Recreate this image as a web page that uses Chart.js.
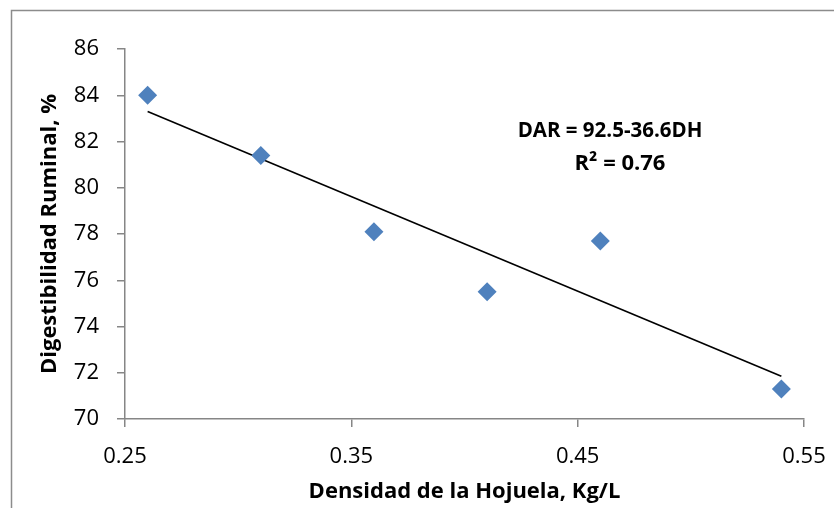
<!DOCTYPE html>
<html>
<head>
<meta charset="utf-8">
<script src="https://cdn.jsdelivr.net/npm/chart.js@4"></script>
<style>
  html, body { margin: 0; padding: 0; background: #fff; }
  #wrap { position: relative; width: 834px; height: 508px; }
</style>
</head>
<body>
<div id="wrap"><canvas id="chartCanvas" width="834" height="508"></canvas></div>
<script>
// Densidad de la hojuela (Kg/L) vs digestibilidad ruminal (%)
const densidad = [0.26, 0.31, 0.36, 0.41, 0.46, 0.54];
const digestibilidad = [84.0, 81.4, 78.1, 75.5, 77.7, 71.3];

// Línea de tendencia (extremos)
const tendenciaX = [0.26, 0.54];
const tendenciaY = [83.3, 71.85];

const xTicks = [0.25, 0.35, 0.45, 0.55];
const yTicks = [70, 72, 74, 76, 78, 80, 82, 84, 86];

const ecuacion = ["DAR = 92.5-36.6DH", "R² = 0.76"];

const axisColor = "#868686";
const tickFont = { family: "'Open Sans', 'DejaVu Sans', sans-serif", size: 22 };
const titleFont = { family: "'Open Sans', 'DejaVu Sans', sans-serif", size: 22, weight: "bold" };

// marco exterior + texto de la ecuación
const decoraciones = {
  id: "decoraciones",
  beforeDraw(chart) {
    const c = chart.ctx;
    c.save();
    c.fillStyle = "#fff";
    c.fillRect(0, 0, chart.width, chart.height);
    c.strokeStyle = "#8c8c8c";
    c.lineWidth = 1.5;
    c.beginPath();
    c.moveTo(11.5, chart.height);
    c.lineTo(11.5, 10.5);
    c.lineTo(chart.width, 10.5);
    c.stroke();
    c.restore();
  },
  afterDraw(chart) {
    const c = chart.ctx;
    const a = chart.chartArea;
    c.save();
    c.fillStyle = "#000";
    c.font = "bold 20.5px 'Open Sans', 'DejaVu Sans', sans-serif";
    c.textAlign = "center";
    c.textBaseline = "middle";
    c.fillText(ecuacion[0], a.left + 485, a.top + 82);
    c.font = "bold 22px 'Open Sans', 'DejaVu Sans', sans-serif";
    c.fillText(ecuacion[1], a.left + 495, a.top + 115);
    c.restore();
  },
};

new Chart(document.getElementById("chartCanvas").getContext("2d"), {
  type: "scatter",
  data: {
    datasets: [
      {
        label: "Datos",
        data: densidad.map((x, i) => ({ x, y: digestibilidad[i] })),
        pointStyle: "rectRot",
        pointRadius: 9.5,
        pointHoverRadius: 9.5,
        backgroundColor: "#4F81BD",
        borderColor: "#4F81BD",
        borderWidth: 0,
      },
      {
        label: "Tendencia",
        type: "line",
        data: tendenciaX.map((x, i) => ({ x, y: tendenciaY[i] })),
        borderColor: "#000",
        borderWidth: 1.6,
        pointRadius: 0,
        fill: false,
      },
    ],
  },
  options: {
    responsive: false,
    animation: false,
    layout: { padding: { left: 0, top: 49, right: 30, bottom: 0 } },
    plugins: {
      legend: { display: false },
      tooltip: { enabled: false },
    },
    scales: {
      x: {
        type: "linear",
        min: 0.25,
        max: 0.55,
        afterBuildTicks: (s) => { s.ticks = xTicks.map((v) => ({ value: v })); },
        afterFit: (s) => { s.height = 89; },
        ticks: {
          color: "#000",
          font: { ...tickFont, lineHeight: 2.02 },
          padding: 8,
          maxRotation: 0,
          callback: (v) => v.toFixed(2),
        },
        grid: { drawOnChartArea: false, drawTicks: true, tickLength: 8, color: axisColor, lineWidth: 1.5 },
        border: { color: axisColor, width: 1.5 },
        title: {
          display: true,
          text: "Densidad de la Hojuela, Kg/L",
          color: "#000",
          font: titleFont,
          padding: { top: 0, bottom: 3 },
        },
      },
      y: {
        type: "linear",
        min: 70,
        max: 86,
        afterBuildTicks: (s) => { s.ticks = yTicks.map((v) => ({ value: v })); },
        afterFit: (s) => { s.width = 125; },
        ticks: {
          color: "#000",
          font: tickFont,
          padding: 18,
        },
        grid: { drawOnChartArea: false, drawTicks: true, tickLength: 8, color: axisColor, lineWidth: 1.5 },
        border: { color: axisColor, width: 1.5 },
        title: {
          display: true,
          text: "Digestibilidad Ruminal, %",
          color: "#000",
          font: titleFont,
          padding: { top: 37, bottom: 0 },
        },
      },
    },
  },
  plugins: [decoraciones],
});
</script>
</body>
</html>
